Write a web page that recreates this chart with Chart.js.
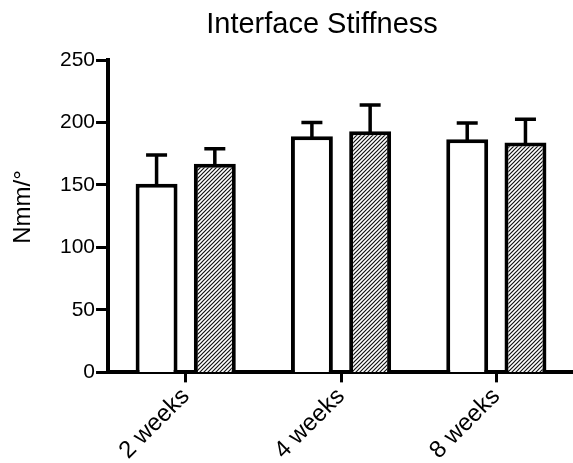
<!DOCTYPE html>
<html>
<head>
<meta charset="utf-8">
<script src="https://cdn.jsdelivr.net/npm/chart.js@4"></script>
<style>
  html, body { margin: 0; padding: 0; background: #fff; overflow: hidden; }
  #wrap { width: 577px; height: 463px; }
</style>
</head>
<body>
<div id="wrap"><canvas id="chart"></canvas></div>
<script>
const categories = ["2 weeks", "4 weeks", "8 weeks"];
const openMeans = [151, 189, 186.5];
const openErrors = [23, 11, 13];
const hatchedMeans = [167, 193, 184];
const hatchedErrors = [12, 21, 18.5];
const yTicks = [0, 50, 100, 150, 200, 250];
const chartTitle = "Interface Stiffness";
const yTitle = "Nmm/°";

function makeHatch() {
  const size = 4;
  const c = document.createElement("canvas");
  c.width = size;
  c.height = size;
  const g = c.getContext("2d");
  g.fillStyle = "#fff";
  g.fillRect(0, 0, size, size);
  g.strokeStyle = "#111";
  g.lineWidth = 1.2;
  g.beginPath();
  g.moveTo(0, size); g.lineTo(size, 0);
  g.moveTo(-1, 1); g.lineTo(1, -1);
  g.moveTo(size - 1, size + 1); g.lineTo(size + 1, size - 1);
  g.stroke();
  return g.createPattern(c, "repeat");
}

const font = "'Liberation Sans', Arial, sans-serif";

// draws only the upper half of each error bar, like the original
const errorBars = {
  id: "errorBars",
  afterDatasetsDraw(chart) {
    const ctx = chart.ctx;
    const y = chart.scales.y;
    ctx.save();
    ctx.strokeStyle = "#000";
    ctx.lineWidth = 3.5;
    chart.data.datasets.forEach((ds, i) => {
      const meta = chart.getDatasetMeta(i);
      meta.data.forEach((bar, j) => {
        const top = y.getPixelForValue(ds.data[j] + ds.errors[j]);
        ctx.beginPath();
        ctx.moveTo(bar.x, bar.y + 2);
        ctx.lineTo(bar.x, top);
        ctx.moveTo(bar.x - 10.5, top);
        ctx.lineTo(bar.x + 10.5, top);
        ctx.stroke();
      });
    });
    ctx.restore();
  }
};

// chart title and y title drawn by hand so they sit where the original has them
const titles = {
  id: "titles",
  afterDraw(chart) {
    const ctx = chart.ctx;
    ctx.save();
    ctx.fillStyle = "#000";
    ctx.font = "29px " + font;
    ctx.textAlign = "center";
    ctx.textBaseline = "alphabetic";
    ctx.fillText(chartTitle, 322, 33);
    ctx.font = "24px " + font;
    ctx.textBaseline = "middle";
    ctx.translate(23, 207);
    ctx.rotate(-Math.PI / 2);
    ctx.fillText(yTitle, 0, 0);
    ctx.restore();
  }
};

new Chart(document.getElementById("chart"), {
  type: "bar",
  data: {
    labels: categories,
    datasets: [
      {
        data: openMeans,
        errors: openErrors,
        backgroundColor: "#fff",
        borderColor: "#000",
        borderWidth: 4,
        borderSkipped: "bottom",
        barPercentage: 0.72,
        categoryPercentage: 0.75
      },
      {
        data: hatchedMeans,
        errors: hatchedErrors,
        backgroundColor: makeHatch(),
        borderColor: "#000",
        borderWidth: 4,
        borderSkipped: "bottom",
        barPercentage: 0.72,
        categoryPercentage: 0.75
      }
    ]
  },
  plugins: [errorBars, titles],
  options: {
    animation: false,
    responsive: true,
    maintainAspectRatio: false,
    layout: { padding: { left: 59, right: 3, top: 60, bottom: -2 } },
    plugins: {
      legend: { display: false },
      tooltip: { enabled: false },
      title: { display: false }
    },
    scales: {
      x: {
        grid: {
          offset: false,
          drawOnChartArea: false,
          drawTicks: true,
          tickLength: 10,
          tickWidth: 3,
          color: "#000"
        },
        border: { display: true, width: 4, color: "#000" },
        ticks: {
          color: "#000",
          font: { family: font, size: 24 },
          maxRotation: 45,
          minRotation: 45,
          padding: 0
        }
      },
      y: {
        min: 0,
        max: 250,
        afterBuildTicks(scale) {
          scale.ticks = yTicks.map(v => ({ value: v }));
        },
        grid: {
          drawOnChartArea: false,
          drawTicks: true,
          tickLength: 12,
          tickWidth: 3,
          color: "#000"
        },
        border: { display: true, width: 4, color: "#000" },
        ticks: {
          color: "#000",
          font: { family: font, size: 21 },
          padding: 1
        }
      }
    }
  }
});
</script>
</body>
</html>
